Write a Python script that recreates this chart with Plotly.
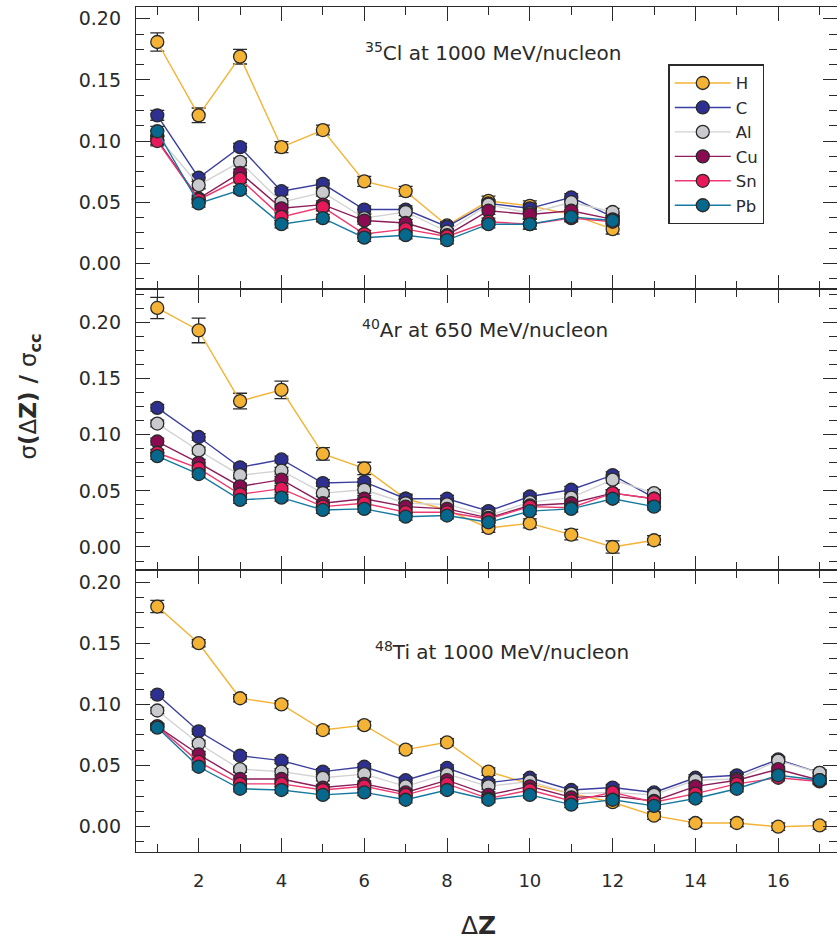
import plotly.graph_objects as go
from plotly.subplots import make_subplots

# Charge-changing fragment ratios sigma(dZ)/sigma_cc for six targets
targets = ["H", "C", "Al", "Cu", "Sn", "Pb"]
fill_colors = {"H": "#F5B335", "C": "#2D3090", "Al": "#C9CACD", "Cu": "#8A0B52", "Sn": "#E8195B", "Pb": "#07688E"}
line_colors = {"H": "#F5B233", "C": "#3B3F9E", "Al": "#D2D2D2", "Cu": "#8E1D5B", "Sn": "#EE3A70", "Pb": "#1679A0"}

# 35Cl at 1000 MeV/nucleon, dZ = 1..12
dz_cl = list(range(1, 13))
cl_H  = [0.181, 0.121, 0.169, 0.095, 0.109, 0.067, 0.059, 0.031, 0.051, 0.047, 0.040, 0.028]
cl_C  = [0.121, 0.070, 0.095, 0.059, 0.065, 0.044, 0.044, 0.030, 0.049, 0.045, 0.054, 0.038]
cl_Al = [0.104, 0.064, 0.083, 0.050, 0.058, 0.037, 0.042, 0.026, 0.048, 0.041, 0.050, 0.042]
cl_Cu = [0.101, 0.053, 0.074, 0.045, 0.048, 0.035, 0.033, 0.023, 0.043, 0.040, 0.043, 0.036]
cl_Sn = [0.100, 0.052, 0.069, 0.038, 0.046, 0.024, 0.028, 0.022, 0.034, 0.032, 0.037, 0.034]
cl_Pb = [0.108, 0.049, 0.060, 0.032, 0.037, 0.021, 0.023, 0.019, 0.032, 0.032, 0.038, 0.035]
cl_H_err = [0.0075, 0.006, 0.006, 0.0045, 0.004, 0.004, 0.004, 0.003, 0.004, 0.004, 0.004, 0.004]
cl_err = [0.004, 0.003, 0.003, 0.003, 0.003, 0.003, 0.003, 0.003, 0.003, 0.004, 0.003, 0.003]

# 40Ar at 650 MeV/nucleon, dZ = 1..13
dz_ar = list(range(1, 14))
ar_H  = [0.213, 0.193, 0.130, 0.140, 0.083, 0.070, 0.043, 0.033, 0.017, 0.021, 0.011, 0.000, 0.006]
ar_C  = [0.124, 0.098, 0.071, 0.078, 0.057, 0.058, 0.043, 0.043, 0.032, 0.045, 0.051, 0.064, 0.044]
ar_Al = [0.110, 0.086, 0.064, 0.068, 0.048, 0.051, 0.039, 0.038, 0.028, 0.040, 0.044, 0.060, 0.048]
ar_Cu = [0.094, 0.075, 0.054, 0.060, 0.039, 0.043, 0.036, 0.034, 0.026, 0.037, 0.039, 0.048, 0.043]
ar_Sn = [0.084, 0.070, 0.047, 0.052, 0.036, 0.039, 0.031, 0.031, 0.025, 0.036, 0.035, 0.048, 0.043]
ar_Pb = [0.081, 0.065, 0.042, 0.044, 0.033, 0.034, 0.027, 0.028, 0.022, 0.032, 0.034, 0.043, 0.036]
ar_H_err = [0.0095, 0.011, 0.007, 0.0078, 0.0055, 0.0055, 0.004, 0.004, 0.004, 0.004, 0.0047, 0.0055, 0.004]
ar_err = [0.003] * 13

# 48Ti at 1000 MeV/nucleon, dZ = 1..17
dz_ti = list(range(1, 18))
ti_H  = [0.180, 0.150, 0.105, 0.100, 0.079, 0.083, 0.063, 0.069, 0.045, 0.035, 0.027, 0.020, 0.009, 0.003, 0.003, 0.000, 0.001]
ti_C  = [0.108, 0.078, 0.058, 0.054, 0.045, 0.049, 0.038, 0.048, 0.036, 0.040, 0.030, 0.032, 0.028, 0.040, 0.042, 0.055, 0.044]
ti_Al = [0.095, 0.068, 0.047, 0.045, 0.040, 0.043, 0.033, 0.043, 0.033, 0.037, 0.027, 0.028, 0.026, 0.038, 0.039, 0.054, 0.044]
ti_Cu = [0.082, 0.059, 0.039, 0.039, 0.032, 0.035, 0.028, 0.038, 0.026, 0.033, 0.024, 0.025, 0.021, 0.033, 0.038, 0.047, 0.038]
ti_Sn = [0.082, 0.053, 0.035, 0.035, 0.030, 0.033, 0.026, 0.035, 0.023, 0.030, 0.021, 0.028, 0.020, 0.027, 0.035, 0.040, 0.037]
ti_Pb = [0.081, 0.049, 0.031, 0.030, 0.026, 0.028, 0.022, 0.030, 0.022, 0.026, 0.018, 0.022, 0.017, 0.023, 0.031, 0.042, 0.038]
ti_H_err = [0.005] + [0.003] * 16
ti_err = [0.0025] * 17

panels = [
    (dz_cl, {"H": cl_H, "C": cl_C, "Al": cl_Al, "Cu": cl_Cu, "Sn": cl_Sn, "Pb": cl_Pb}, cl_H_err, cl_err),
    (dz_ar, {"H": ar_H, "C": ar_C, "Al": ar_Al, "Cu": ar_Cu, "Sn": ar_Sn, "Pb": ar_Pb}, ar_H_err, ar_err),
    (dz_ti, {"H": ti_H, "C": ti_C, "Al": ti_Al, "Cu": ti_Cu, "Sn": ti_Sn, "Pb": ti_Pb}, ti_H_err, ti_err),
]

FONT = "DejaVu Sans"
INK = "#2a2a2a"

fig = make_subplots(rows=3, cols=1, shared_xaxes=True, vertical_spacing=0)

for row, (dz, series, h_err, t_err) in enumerate(panels, start=1):
    for t in targets:
        err = h_err if t == "H" else t_err
        fig.add_trace(
            go.Scatter(
                x=dz, y=series[t], name=t, legendgroup=t, showlegend=(row == 1),
                mode="lines+markers",
                line=dict(color=line_colors[t], width=1.4),
                marker=dict(size=13, color=fill_colors[t], line=dict(color=INK, width=1.3)),
                error_y=dict(type="data", array=err, visible=True, color=INK, thickness=1.3, width=7),
            ),
            row=row, col=1,
        )

axis_common = dict(
    showline=True, linecolor=INK, linewidth=1.3, mirror="allticks",
    ticks="inside", tickcolor=INK, tickwidth=1.3, ticklen=14,
    showgrid=False, zeroline=False,
    tickfont=dict(family=FONT, size=19, color=INK),
)

for row in (1, 2, 3):
    fig.update_xaxes(
        range=[0.486, 17.42], dtick=2, tick0=0,
        minor=dict(ticks="inside", dtick=1, tick0=0, ticklen=8, tickcolor=INK, tickwidth=1.3),
        showticklabels=(row == 3), ticklabelstandoff=12,
        row=row, col=1, **axis_common,
    )
    yr = [-0.0208, 0.2302] if row == 2 else [-0.0207, 0.2096]
    fig.update_yaxes(
        range=yr, dtick=0.05, tick0=0, tickformat=".2f",
        minor=dict(ticks="inside", dtick=0.0125, tick0=0, ticklen=8, tickcolor=INK, tickwidth=1.3),
        ticklabelstandoff=10,
        row=row, col=1, **axis_common,
    )
fig.update_xaxes(tickfont=dict(size=18), row=3, col=1)

labels = [
    ("<sup>35</sup>Cl at 1000 MeV/nucleon", 0.5098, 0.9471),
    ("<sup>40</sup>Ar at 650 MeV/nucleon", 0.4977, 0.6193),
    ("<sup>48</sup>Ti at 1000 MeV/nucleon", 0.5228, 0.2382),
]
for text, ax_, ay_ in labels:
    fig.add_annotation(text=text, x=ax_, y=ay_, xref="paper", yref="paper",
                       xanchor="center", yanchor="middle", showarrow=False,
                       font=dict(family=FONT, size=20, color=INK))

fig.add_annotation(text="σ<b>(</b>Δ<b>Z) / </b>σ<sub><b>cc</b></sub>", x=-0.1512, y=0.539,
                   xref="paper", yref="paper", textangle=-90, showarrow=False,
                   xanchor="center", yanchor="middle",
                   font=dict(family=FONT, size=23, color=INK))
fig.add_annotation(text="Δ<b>Z</b>", x=0.4879, y=-0.0872, xref="paper", yref="paper",
                   showarrow=False, xanchor="center", yanchor="middle",
                   font=dict(family=FONT, size=25, color=INK))

fig.update_layout(
    width=837, height=941,
    margin=dict(l=136, r=0, t=7.3, b=88.7),
    paper_bgcolor="white", plot_bgcolor="white",
    legend=dict(x=0.7596, y=0.932, xanchor="left", yanchor="top",
                bordercolor=INK, borderwidth=1.3, bgcolor="white",
                font=dict(family=FONT, size=16.5, color=INK),
                itemwidth=56, entrywidth=64, tracegroupgap=0),
    showlegend=True,
)

fig.write_html("out.html")
